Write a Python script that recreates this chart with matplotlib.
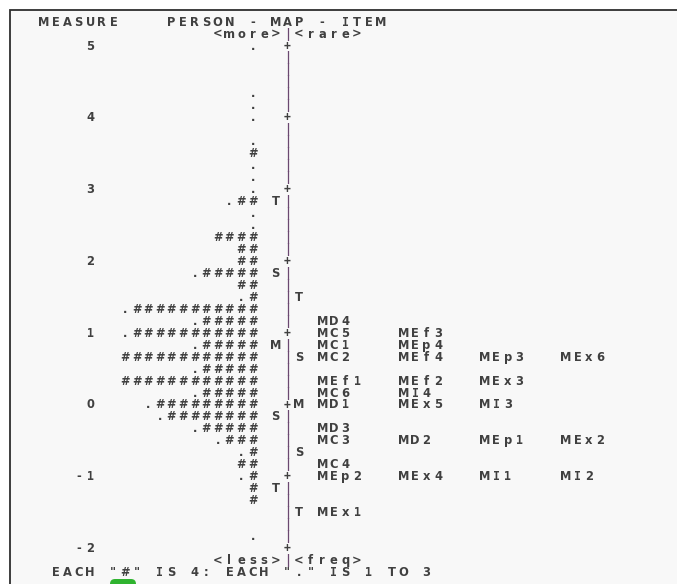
import matplotlib.pyplot as plt
from matplotlib.patches import Rectangle, FancyBboxPatch

# measure scale, 6 text rows per logit
measure_ticks = [5, 4, 3, 2, 1, 0, -1, -2]
rows_per_unit = 6

# persons, one string per row from 5 down to -2 (right aligned on the map)
person_rows = ['.', '', '', '', '.', '.', '.', '', '.', '#', '.', '.',
               '.', '.##', '.', '.', '####', '##', '##', '.#####', '##', '.#',
               '.###########', '.#####', '.###########', '.#####',
               '############', '.#####', '############', '.#####',
               '.#########', '.########', '.#####', '.###', '.#', '##',
               '.#', '#', '#', '', '', '.', '']
person_marks = {13: 'T', 19: 'S', 25: 'M', 31: 'S', 37: 'T'}

# items, by row
item_marks = {21: 'T', 26: 'S', 30: 'M', 34: 'S', 39: 'T'}
item_rows = {
    23: ['MD4'],
    24: ['MC5', 'MEf3'],
    25: ['MC1', 'MEp4'],
    26: ['MC2', 'MEf4', 'MEp3', 'MEx6'],
    28: ['MEf1', 'MEf2', 'MEx3'],
    29: ['MC6', 'MI4'],
    30: ['MD1', 'MEx5', 'MI3'],
    32: ['MD3'],
    33: ['MC3', 'MD2', 'MEp1', 'MEx2'],
    35: ['MC4'],
    36: ['MEp2', 'MEx4', 'MI1', 'MI2'],
    39: ['MEx1'],
}

title_left = 'MEASURE'
title_mid = 'PERSON - MAP - ITEM'
top_labels = ('<more>', '<rare>')
bottom_labels = ('<less>', '<freq>')
footnote = 'EACH "#" IS 4: EACH "." IS 1 TO 3'

txt_col = '#404040'
bar_col = '#6a4870'
fs = 8.3
bar_pos = 21
person_end = 18
item_pos = 24
item_step = 7

fig = plt.figure(figsize=(6.77, 5.84), dpi=100)
fig.patch.set_facecolor('white')
fig.patches.append(Rectangle((9.5, -10), 700, 584 - 9.5 + 10, transform=None,
                             facecolor='#f8f8f8', edgecolor='#2e2e2e', lw=1.3,
                             zorder=-5))
fig.patches.append(FancyBboxPatch((110, -7), 26, 12, transform=None,
                                  boxstyle='round,pad=0,rounding_size=5',
                                  facecolor='#2fb32f', edgecolor='none',
                                  zorder=-4))

ax = fig.add_axes([0, 0, 1, 1])
ax.set_xlim(-43.8 / 11.6, (677 - 43.8) / 11.6)
ax.set_ylim(5 - (584 - 46) / 71.8, 5 + 46 / 71.8)
ax.axis('off')


def row_y(r):
    return measure_ticks[0] - r / rows_per_unit


def put(col, r, s, color=txt_col):
    # one character per column, like the console listing
    for k, ch in enumerate(s):
        if ch == ' ':
            continue
        fam = 'DejaVu Sans Mono' if ch in 'I1|+' else 'DejaVu Sans'
        ax.text(col + k, row_y(r), ch, ha='center', va='center',
                family=fam, fontsize=fs, fontweight='bold', color=color)


n_rows = (measure_ticks[0] - measure_ticks[-1]) * rows_per_unit + 1

# header and footer
put(0, -2, title_left)
put(11, -2, title_mid)
put(bar_pos - len(top_labels[0]), -1, top_labels[0])
put(bar_pos, -1, '|', bar_col)
put(bar_pos + 1, -1, top_labels[1])
put(bar_pos - len(bottom_labels[0]), n_rows, bottom_labels[0])
put(bar_pos, n_rows, '|', bar_col)
put(bar_pos + 1, n_rows, bottom_labels[1])
put(1, n_rows + 1, footnote)

for r in range(n_rows):
    if r % rows_per_unit == 0:
        m = measure_ticks[r // rows_per_unit]
        put(5 - len(str(m)), r, str(m))
        put(bar_pos, r, '+')
    else:
        put(bar_pos, r, '|', bar_col)
    s = person_rows[r]
    put(person_end + 1 - len(s), r, s)
    if r in person_marks:
        put(bar_pos - 1, r, person_marks[r])
    if r in item_marks:
        put(bar_pos + 1, r, item_marks[r])
    for j, name in enumerate(item_rows.get(r, [])):
        put(item_pos + j * item_step, r, name)

fig.savefig('out.png', dpi=100)
